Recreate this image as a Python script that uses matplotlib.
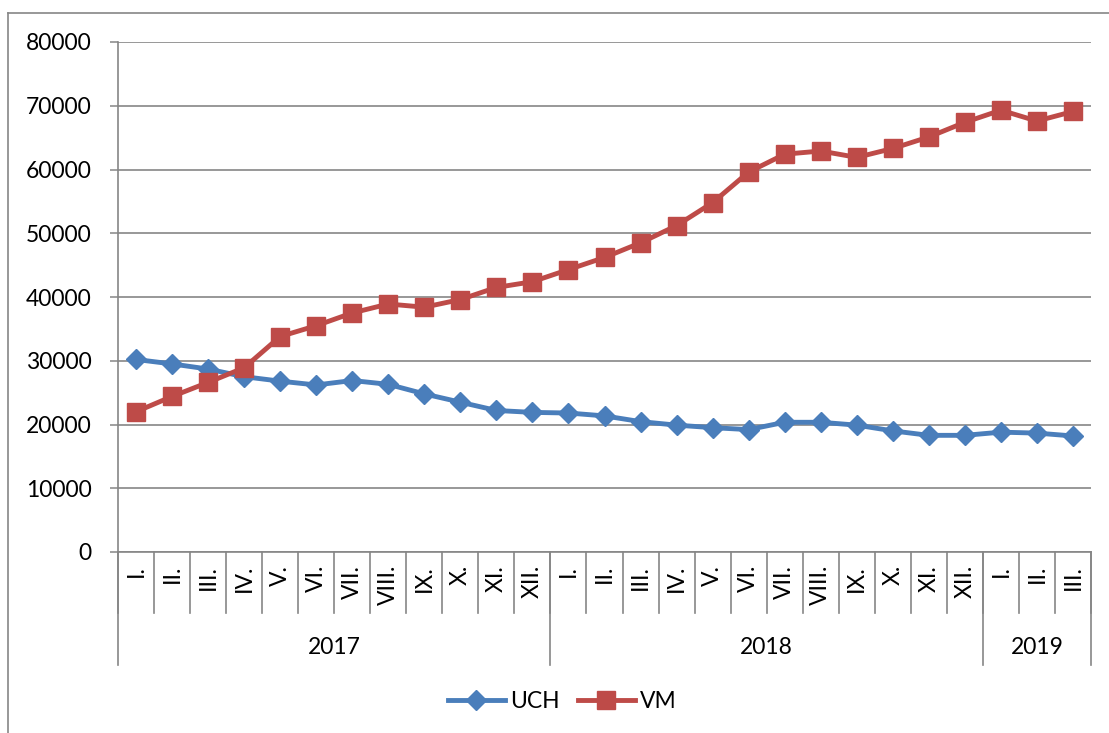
import matplotlib
matplotlib.use("Agg")
import matplotlib.pyplot as plt
from matplotlib.lines import Line2D

plt.rcParams['font.family'] = ['Lato', 'DejaVu Sans']

# data
months = ["I.", "II.", "III.", "IV.", "V.", "VI.", "VII.", "VIII.", "IX.", "X.", "XI.", "XII.",
          "I.", "II.", "III.", "IV.", "V.", "VI.", "VII.", "VIII.", "IX.", "X.", "XI.", "XII.",
          "I.", "II.", "III."]
years = ["2017", "2018", "2019"]
months_per_year = [12, 12, 3]

uch = [30200, 29500, 28700, 27500, 26800, 26200, 26900, 26300, 24800, 23500, 22200, 21900,
       21800, 21350, 20450, 19900, 19500, 19200, 20350, 20350, 19900, 19000, 18300, 18300,
       18800, 18650, 18200]
vm = [22000, 24400, 26600, 28900, 33800, 35500, 37500, 38900, 38400, 39600, 41500, 42400,
      44300, 46200, 48500, 51200, 54800, 59600, 62400, 62900, 61900, 63300, 65100, 67400,
      69300, 67600, 69100]

BLUE = "#4A7EBB"
RED = "#BE4B48"
GRAY = "#868686"

W, H = 1109, 733
fig = plt.figure(figsize=(W / 100, H / 100), dpi=100)
ax = fig.add_axes([118 / W, 1 - 552 / H, (1091 - 118) / W, (552 - 42) / H])

x = list(range(len(months)))
ax.plot(x, uch, color=BLUE, lw=3.5, marker="D", ms=10.5, label="UCH", zorder=3)
ax.plot(x, vm, color=RED, lw=3.5, marker="s", ms=13.5, label="VM", zorder=4)

ax.set_xlim(-0.5, len(months) - 0.5)
ax.set_ylim(0, 80000)
ax.set_yticks(range(0, 80001, 10000))
ax.tick_params(axis="y", labelsize=16.5, length=6, width=1.1, color=GRAY, pad=13)
ax.set_xticks([])
ax.grid(axis="y", color=GRAY, lw=1.2)
ax.set_axisbelow(True)
for s in ["top", "right"]:
    ax.spines[s].set_visible(False)
for s in ["left", "bottom"]:
    ax.spines[s].set_color(GRAY)
    ax.spines[s].set_linewidth(1.2)

# multi-level category axis
ah = 552 - 42
tr = ax.get_xaxis_transform()
for i, m in enumerate(months):
    ax.text(i, -13 / ah, m, rotation=90, ha="center", va="top", fontsize=16.5, transform=tr)
for i in range(len(months) + 1):
    ax.plot([i - 0.5, i - 0.5], [0, -61 / ah], color=GRAY, lw=1.2, transform=tr, clip_on=False)

start = 0
for yr, n in zip(years, months_per_year):
    ax.plot([start - 0.5, start - 0.5], [0, -113 / ah], color=GRAY, lw=1.2, transform=tr, clip_on=False)
    ax.text(start + n / 2 - 0.5, -96 / ah, yr, ha="center", va="center", fontsize=16.5, transform=tr)
    start += n
ax.plot([start - 0.5, start - 0.5], [0, -113 / ah], color=GRAY, lw=1.2, transform=tr, clip_on=False)

fig.legend(loc="center", bbox_to_anchor=(562 / W, 1 - 702 / H), ncol=2, frameon=False,
           fontsize=16.5, handlelength=2.5, handletextpad=0.2, columnspacing=0.8)

# chart area border (cropped at right and bottom)
fig.add_artist(Line2D([8 / W, 8 / W], [0, 1 - 13 / H], color=GRAY, lw=1.2, transform=fig.transFigure))
fig.add_artist(Line2D([8 / W, 1], [1 - 13 / H, 1 - 13 / H], color=GRAY, lw=1.2, transform=fig.transFigure))

fig.savefig("out.png", dpi=100)
